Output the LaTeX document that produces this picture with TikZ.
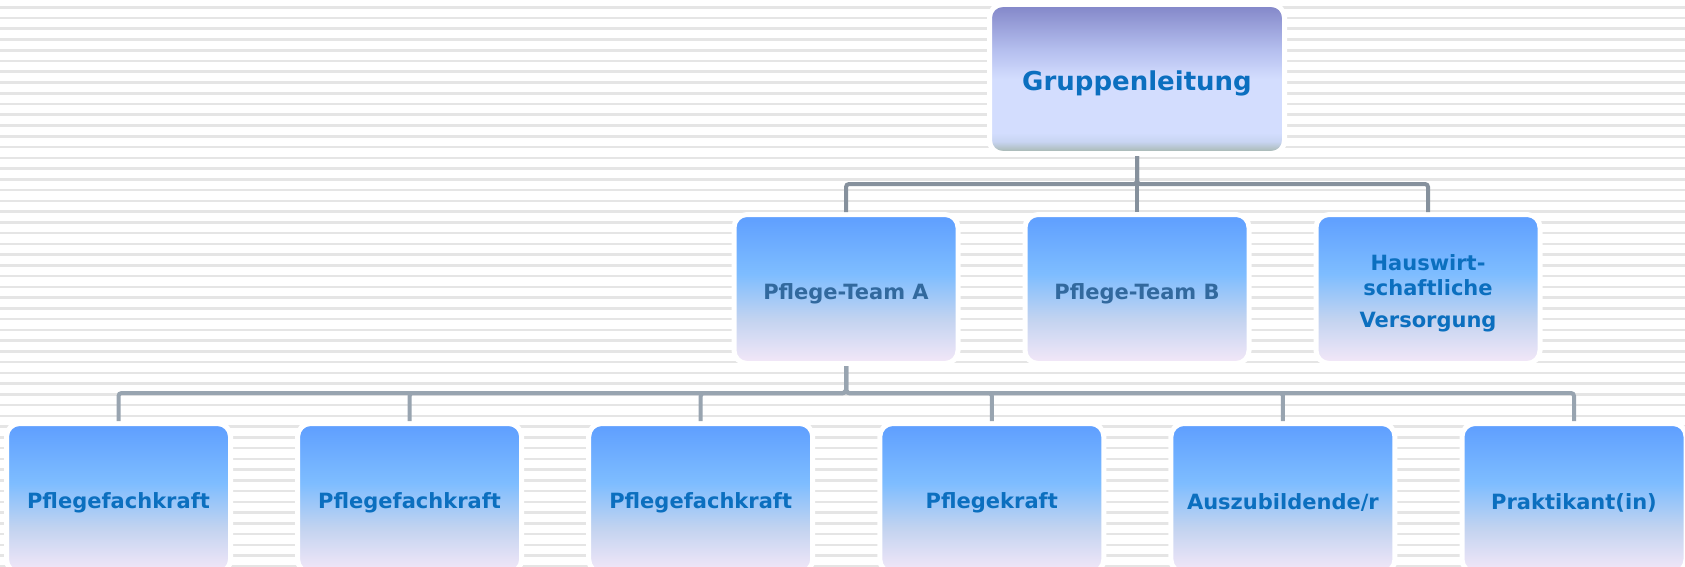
\documentclass[tikz,border=0pt]{standalone}
\usepackage{fontspec}
\setmainfont{DejaVu Sans}
\definecolor{lb0}{HTML}{F4E8F8}
\definecolor{lb1}{HTML}{C2D3F0}
\definecolor{lb2}{HTML}{7EBDFF}
\definecolor{lb3}{HTML}{5E9EFF}
\definecolor{tb0}{HTML}{A2B4A6}
\definecolor{tb1}{HTML}{C8D4F2}
\definecolor{tb2}{HTML}{D3DDFE}
\definecolor{tb3}{HTML}{B4BEEE}
\definecolor{tb4}{HTML}{8286C8}
\definecolor{txtblue}{HTML}{0B6FBF}
\definecolor{txtteam}{HTML}{32699E}
\definecolor{connup}{HTML}{86919D}
\definecolor{connlow}{HTML}{98A4B0}
\definecolor{stripec}{HTML}{E5E5E5}
\pgfdeclareverticalshading{leafshade}{100bp}{color(0bp)=(lb0); color(25bp)=(lb0); color(40bp)=(lb1); color(55bp)=(lb2); color(75bp)=(lb3); color(100bp)=(lb3)}
\pgfdeclareverticalshading{topshade}{100bp}{color(0bp)=(tb0); color(25bp)=(tb0); color(29bp)=(tb1); color(32bp)=(tb2); color(50bp)=(tb2); color(60bp)=(tb3); color(75bp)=(tb4); color(100bp)=(tb4)}
\tikzset{
  stripe/.style={line width=2.6pt, draw=stripec},
  box/.style={draw=white, line width=5pt, rounded corners=13pt, shading=leafshade,
    minimum width=224pt, minimum height=149pt, inner sep=0pt},
  headbox/.style={box, shading=topshade, minimum width=295pt},
  lbl/.style={yshift=-4.5pt, inner sep=0pt, align=center,
    font=\fontsize{21}{25}\selectfont\bfseries, text=txtblue},
  teamlbl/.style={lbl, text=txtteam},
  headlbl/.style={lbl, font=\fontsize{26}{30}\selectfont\bfseries},
  connu/.style={line width=4pt, draw=connup, rounded corners=3pt},
  connl/.style={line width=4pt, draw=connlow, rounded corners=3pt}
}
\begin{document}
\begin{tikzpicture}[x=1pt, y=-1pt]
\useasboundingbox (0,0) rectangle (1685,567);
\fill[white] (0,0) rectangle (1685,567);
\foreach \i in {0,...,52} {\draw[stripe] (0,{7.3+10.75*\i}) -- (1685,{7.3+10.75*\i});}
% head
\node[headbox, label={[headlbl]center:Gruppenleitung}] (g) at (1137,79) {};
% level 2
\node[box, label={[teamlbl]center:Pflege-Team A}] (a) at (846,289) {};
\node[box, label={[teamlbl]center:Pflege-Team B}] (b) at (1137,289) {};
\node[box, label={[lbl]center:Hauswirt-\\schaftliche\\[7pt]Versorgung}] (c) at (1428,289) {};
% level 3
\node[box, label={[lbl]center:Pflegefachkraft}] (l1) at (118.5,498) {};
\node[box, label={[lbl]center:Pflegefachkraft}] (l2) at (409.6,498) {};
\node[box, label={[lbl]center:Pflegefachkraft}] (l3) at (700.7,498) {};
\node[box, label={[lbl]center:Pflegekraft}] (l4) at (991.8,498) {};
\node[box, label={[lbl]center:Auszubildende/r}] (l5) at (1282.9,498) {};
\node[box, label={[lbl]center:Praktikant(in)}] (l6) at (1574,498) {};
% connectors upper
\draw[connu] (g.south) -- ++(0,28) -| (a.north);
\draw[connu] (g.south) -- (b.north);
\draw[connu] (g.south) -- ++(0,28) -| (c.north);
% connectors lower
\foreach \n in {l1,l2,l3,l4,l5,l6} {\draw[connl] (a.south) -- ++(0,27) -| (\n.north);}
\end{tikzpicture}
\end{document}
